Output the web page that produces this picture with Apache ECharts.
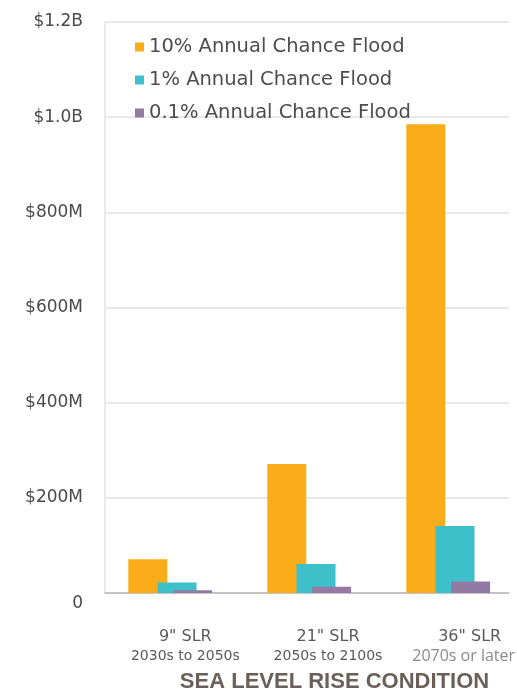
<!DOCTYPE html>
<html>
<head>
<meta charset="utf-8">
<script src="https://cdn.jsdelivr.net/npm/echarts@6/dist/echarts.min.js"></script>
<style>
  html, body { margin: 0; padding: 0; background: #ffffff; }
  #chart { width: 517px; height: 692px; }
</style>
</head>
<body>
<div id="chart"></div>
<script>
// Sea level rise scenarios and estimated flood losses (millions of dollars)
const categories = ['9" SLR', '21" SLR', '36" SLR'];
const periods = ['2030s to 2050s', '2050s to 2100s', '2070s or later'];
const seriesNames = ['10% Annual Chance Flood', '1% Annual Chance Flood', '0.1% Annual Chance Flood'];
const flood10 = [71, 271, 985];
const flood1 = [22, 61, 141];
const flood01 = [6, 13, 24];
const yTickLabels = ['0', '$200M', '$400M', '$600M', '$800M', '$1.0B', '$1.2B'];

const colors = ['#FAAD19', '#3EC0CA', '#9479A2'];
const FONT = 'DejaVu Sans';
const BAR_W = 39;

// horizontal nudges (px) for the two lines of each category label
const titleShift = [13, 21, 28];
const periodShift = [13, 21, 22];

const chart = echarts.init(document.getElementById('chart'), null, { renderer: 'canvas' });

const gridBox = { top: 22, bottom: 99, outerBoundsMode: 'none', containLabel: false };
const hiddenAxis = { show: false };
const valueRange = { type: 'value', min: 0, max: 1200, interval: 200 };

function slot(axis) {
  return { type: 'bar', xAxisIndex: axis, yAxisIndex: 1, data: [null, null, null],
           barWidth: BAR_W, silent: true, itemStyle: { color: 'rgba(0,0,0,0)' } };
}

// rich styles for the category labels, one pair per category
const labelRich = {};
categories.forEach(function (c, i) {
  labelRich['a' + i] = { fontFamily: FONT, fontSize: 16, color: '#5a5a5a', lineHeight: 20,
                         padding: [0, 0, 0, titleShift[i] * 2] };
  labelRich['b' + i] = i === 2
    ? { fontFamily: 'Open Sans', fontSize: 16, color: '#8a8a8a', lineHeight: 18,
        padding: [0, 0, 0, periodShift[i] * 2] }
    : { fontFamily: FONT, fontSize: 14, color: '#5a5a5a', lineHeight: 18,
        padding: [0, 0, 0, periodShift[i] * 2] };
});

const option = {
  backgroundColor: '#ffffff',
  animation: false,
  legend: {
    data: seriesNames,
    orient: 'vertical',
    left: 130,
    top: 32,
    icon: 'rect',
    itemWidth: 9,
    itemHeight: 9,
    itemGap: 13,
    textStyle: { fontFamily: FONT, fontSize: 19.5, color: '#4d4d4d', lineHeight: 20 }
  },
  grid: [
    Object.assign({ left: 105, right: 8 }, gridBox),
    Object.assign({ left: 100, width: 417 }, gridBox)
  ],
  xAxis: [
    {
      gridIndex: 0, type: 'category', data: categories,
      axisLine: { lineStyle: { color: '#b8b8b8', width: 1.5 } },
      axisTick: { length: 7, lineStyle: { color: '#b8b8b8', width: 1.5 } },
      splitLine: { show: false },
      axisLabel: {
        interval: 0,
        margin: 34,
        formatter: function (value, index) {
          return '{a' + index + '|' + value + '}\n{b' + index + '|' + periods[index] + '}';
        },
        rich: labelRich
      },
      name: 'SEA LEVEL RISE CONDITION',
      nameLocation: 'middle',
      nameGap: 78,
      nameTextStyle: {
        fontFamily: 'Liberation Sans', fontWeight: 'bold', fontSize: 22,
        color: '#6b6059', padding: [0, 0, 0, 55]
      }
    },
    Object.assign({ gridIndex: 1, type: 'category', data: categories }, hiddenAxis),
    Object.assign({ gridIndex: 1, type: 'category', data: categories }, hiddenAxis),
    Object.assign({ gridIndex: 1, type: 'category', data: categories }, hiddenAxis)
  ],
  yAxis: [
    Object.assign({}, valueRange, {
      gridIndex: 0,
      axisLine: { show: true, lineStyle: { color: '#e2e2e2', width: 1.5 } },
      axisTick: { show: false },
      splitLine: { lineStyle: { color: '#e2e2e2', width: 1.5 } },
      axisLabel: {
        margin: 22,
        formatter: function (v) {
          const label = yTickLabels[Math.round(v / 200)];
          return v === 0 ? '{z|' + label + '}' : label;
        },
        fontFamily: FONT, fontSize: 17, color: '#4a4a4a',
        rich: { z: { fontFamily: FONT, fontSize: 17, color: '#4a4a4a', padding: [22, 0, 0, 0] } }
      }
    }),
    Object.assign({}, valueRange, { gridIndex: 1 }, hiddenAxis)
  ],
  series: [
    { name: seriesNames[0], type: 'bar', xAxisIndex: 1, yAxisIndex: 1, data: flood10,
      barWidth: BAR_W, barGap: '11.3%', itemStyle: { color: colors[0] } },
    slot(1),
    slot(2),
    { name: seriesNames[1], type: 'bar', xAxisIndex: 2, yAxisIndex: 1, data: flood1,
      barWidth: BAR_W, barGap: '-61.5%', itemStyle: { color: colors[1] } },
    slot(3),
    { name: seriesNames[2], type: 'bar', xAxisIndex: 3, yAxisIndex: 1, data: flood01,
      barWidth: BAR_W, barGap: '18.5%', itemStyle: { color: colors[2] } }
  ]
};

chart.setOption(option);
</script>
</body>
</html>
